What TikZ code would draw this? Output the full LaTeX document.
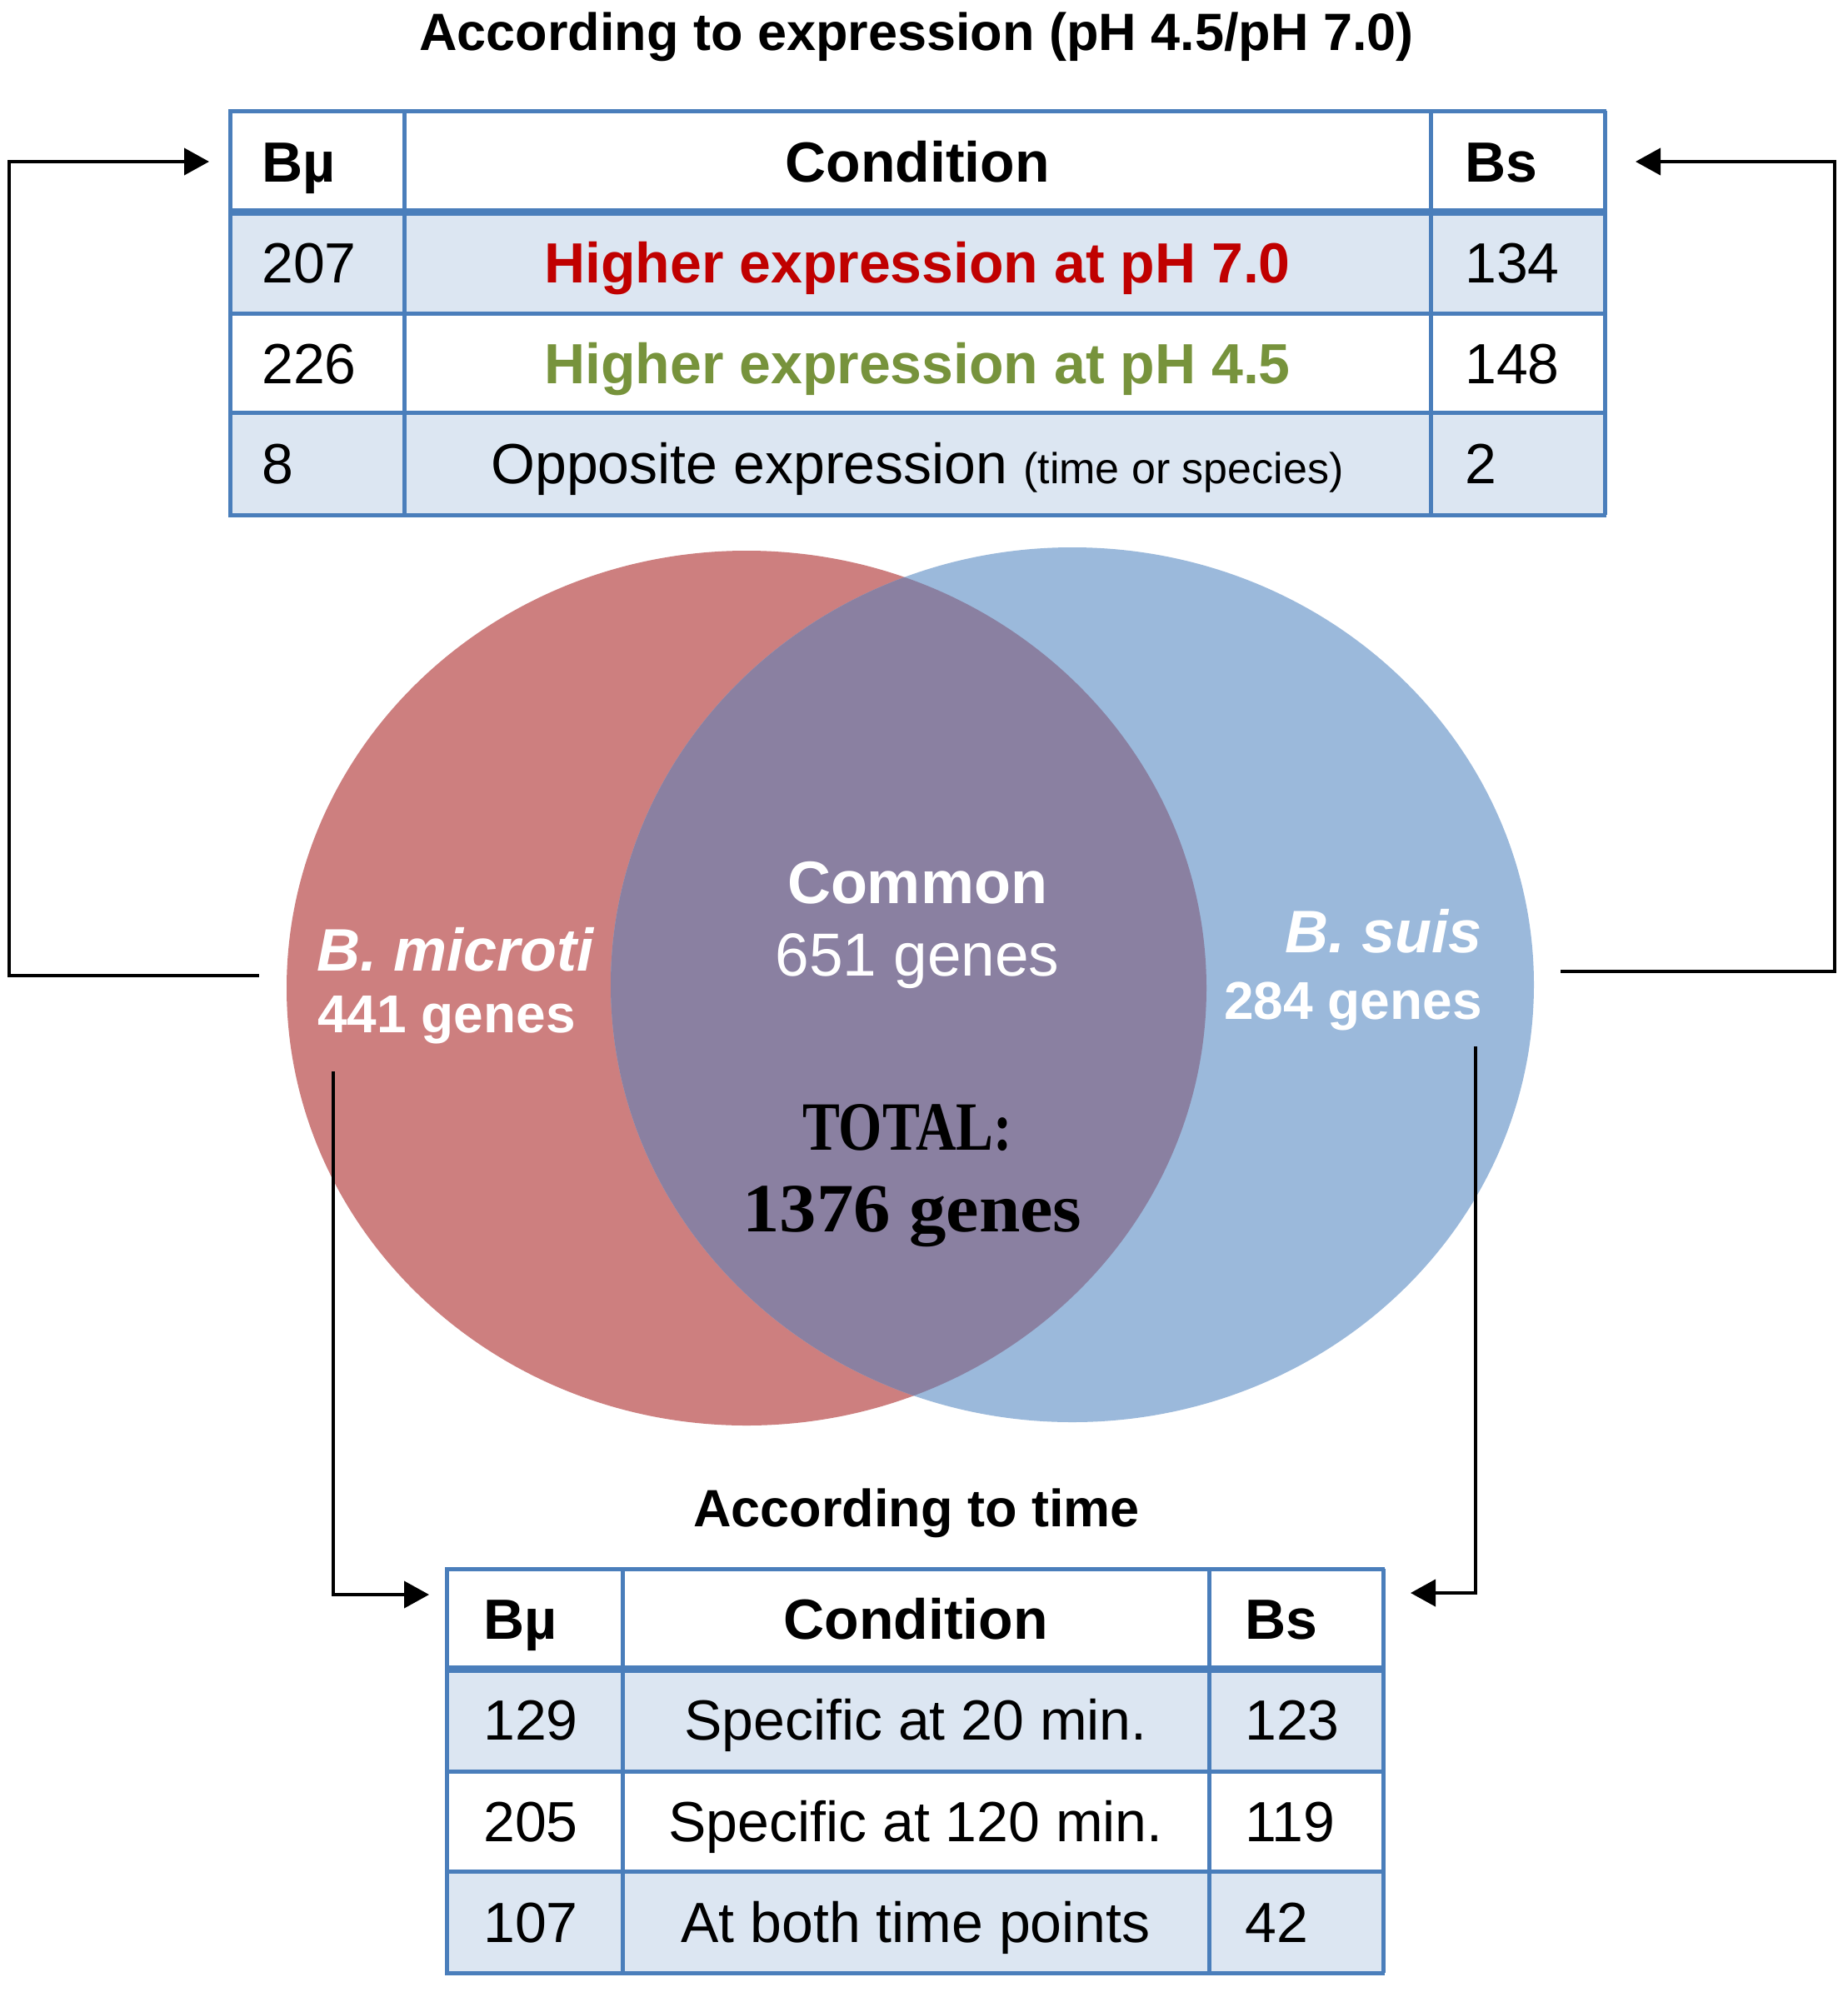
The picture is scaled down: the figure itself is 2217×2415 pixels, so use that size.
\documentclass[tikz,border=0pt]{standalone}
\usepackage{fontspec}
\usepackage{graphicx}
\setmainfont{Liberation Sans}
\newfontfamily\serifbf{Liberation Serif}
\usetikzlibrary{arrows.meta}
\definecolor{tblue}{HTML}{4A7EBB}
\definecolor{tfill}{HTML}{DCE6F2}
\definecolor{vred}{HTML}{CD7F7F}
\definecolor{vblue}{HTML}{9BB9DB}
\definecolor{vmix}{HTML}{8A80A1}
\definecolor{hred}{HTML}{C00000}
\definecolor{hgreen}{HTML}{77933C}
\begin{document}
\begin{tikzpicture}[x=1pt,y=-1pt,
  cellt/.style={anchor=base, inner sep=0pt, font=\fontsize{68}{80}\selectfont},
  cellw/.style={cellt, anchor=base west},
  ttl/.style={anchor=base, inner sep=0pt, font=\fontsize{63}{72}\selectfont\bfseries},
  vtxt/.style={inner sep=0pt, text=white},
  tline/.style={draw=tblue, line width=5pt},
  hline/.style={draw=tblue, line width=9pt},
  conn/.style={line width=4pt, line join=miter, -{Triangle[length=30pt,width=32pt]}}]
\useasboundingbox[fill=white] (0,0) rectangle (2217,2415);

% ---------- title A
\node[ttl] (titleA) at (1100,60) {According to expression (pH 4.5/pH 7.0)};

% ---------- table A
\fill[tfill] (276,254) rectangle (1926,376);
\fill[tfill] (276,495) rectangle (1926,618);
\foreach \x in {276,485,1717,1926} \draw[tline] (\x,133) -- (\x,618);
\foreach \y in {133,376,495,618} \draw[tline] (274,\y) -- (1928,\y);
\draw[hline] (274,254) -- (1928,254);
\coordinate (tabAw) at (276,194);
\coordinate (tabAe) at (1926,194);

\node[cellw] (a11) at (314,218) {\bfseries Bµ};
\node[cellt] (a12) at (1101,218) {\bfseries Condition};
\node[cellw] (a13) at (1758,218) {\bfseries Bs};
\node[cellw] (a21) at (314,339) {207};
\node[cellt, text=hred] (a22) at (1101,339) {\bfseries Higher expression at pH 7.0};
\node[cellw] (a23) at (1758,339) {134};
\node[cellw] (a31) at (314,460) {226};
\node[cellt, text=hgreen] (a32) at (1101,460) {\bfseries Higher expression at pH 4.5};
\node[cellw] (a33) at (1758,460) {148};
\node[cellw] (a41) at (314,580) {8};
\node[cellt] (a42) at (1101,580) {Opposite expression {\fontsize{52}{60}\selectfont (time or species)}};
\node[cellw] (a43) at (1758,580) {2};

% ---------- Venn
\fill[vred] (896,1186) ellipse [x radius=552pt, y radius=525pt];
\fill[vblue] (1287,1182) ellipse [x radius=554pt, y radius=525pt];
\begin{scope}
  \clip (896,1186) ellipse [x radius=552pt, y radius=525pt];
  \fill[vmix] (1287,1182) ellipse [x radius=554pt, y radius=525pt];
\end{scope}

\node[vtxt, anchor=base] (common) at (1101,1084) {\fontsize{72}{80}\selectfont\bfseries Common};
\node[vtxt, anchor=base] (commonN) at (1101,1171) {\fontsize{73}{80}\selectfont 651 genes};
\node[vtxt, anchor=base west] (micro) at (380,1165) {\fontsize{72}{80}\selectfont\bfseries\itshape B. microti};
\node[vtxt, anchor=base west] (microN) at (381,1239) {\fontsize{64}{72}\selectfont\bfseries 441 genes};
\node[vtxt, anchor=base east] (suis) at (1779,1143) {\fontsize{72}{80}\selectfont\bfseries\itshape B. suis};
\node[vtxt, anchor=base east] (suisN) at (1779,1223) {\fontsize{64}{72}\selectfont\bfseries 284 genes};
\node[inner sep=0pt, anchor=base] (total) at (1089,1380) {\fontsize{83}{90}\selectfont\serifbf\bfseries\scalebox{0.81}[1]{TOTAL:}};
\node[inner sep=0pt, anchor=base] (totalN) at (1095,1478) {\fontsize{83}{90}\selectfont\serifbf\bfseries\scalebox{1.07}[1]{1376 genes}};

% ---------- connector end points
\coordinate (mL) at (311,1171);
\coordinate (mLc) at (11,1171);
\coordinate (mLt) at (11,194);
\coordinate (sR) at (1873,1166);
\coordinate (sRc) at (2202,1166);
\coordinate (sRt) at (2202,194);
\coordinate (mB) at (400,1286);
\coordinate (mBc) at (400,1914);
\coordinate (sB) at (1771,1256);
\coordinate (sBc) at (1771,1912);

\draw[conn] (mL) -- (mLc) -- (mLt) -- ([xshift=-25pt]tabAw);
\draw[conn] (sR) -- (sRc) -- (sRt) -- ([xshift=37pt]tabAe);

% ---------- title B
\node[ttl] (titleB) at (1100,1832) {According to time};

% ---------- table B
\fill[tfill] (536,2003) rectangle (1660,2126);
\fill[tfill] (536,2246) rectangle (1660,2368);
\foreach \x in {536,747,1451,1660} \draw[tline] (\x,1883) -- (\x,2368);
\foreach \y in {1883,2126,2246,2368} \draw[tline] (534,\y) -- (1662,\y);
\draw[hline] (534,2003) -- (1662,2003);
\coordinate (tabBw) at (536,1914);
\coordinate (tabBe) at (1660,1912);

\node[cellw] (b11) at (580,1967) {\bfseries Bµ};
\node[cellt] (b12) at (1099,1967) {\bfseries Condition};
\node[cellw] (b13) at (1494,1967) {\bfseries Bs};
\node[cellw] (b21) at (580,2088) {129};
\node[cellt] (b22) at (1099,2088) {Specific at 20 min.};
\node[cellw] (b23) at (1494,2088) {123};
\node[cellw] (b31) at (580,2210) {205};
\node[cellt] (b32) at (1099,2210) {Specific at 120 min.};
\node[cellw] (b33) at (1494,2210) {119};
\node[cellw] (b41) at (580,2331) {107};
\node[cellt] (b42) at (1099,2331) {At both time points};
\node[cellw] (b43) at (1494,2331) {42};

\draw[conn] (mB) -- (mBc) -- ([xshift=-21pt]tabBw);
\draw[conn] (sB) -- (sBc) -- ([xshift=33pt]tabBe);
\end{tikzpicture}
\end{document}
